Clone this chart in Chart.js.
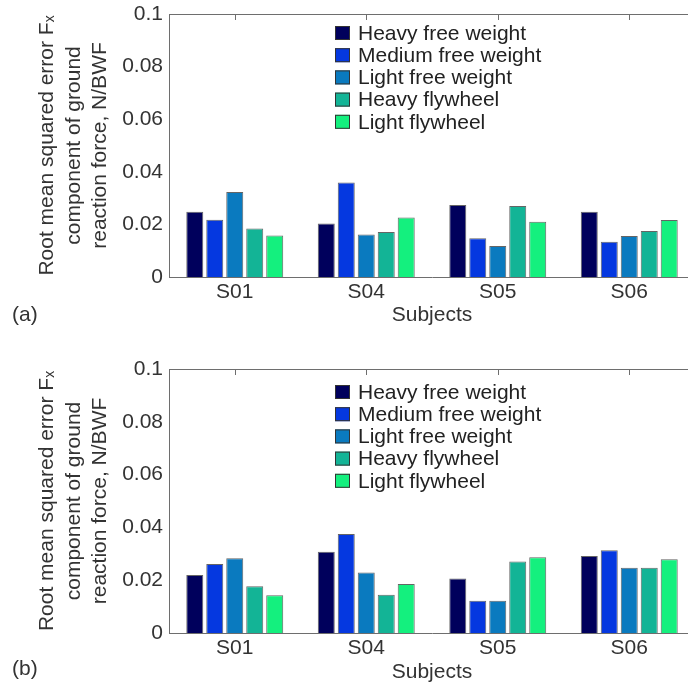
<!DOCTYPE html>
<html lang="en">
<head>
    <meta charset="UTF-8">
    <title>RMSE Fx per subject</title>
    <script src="https://cdn.jsdelivr.net/npm/chart.js"></script>
    <style>
        body {
            margin: 0;
            background: #fff;
            overflow: hidden;
            font-family: "Liberation Sans", Arial, sans-serif;
        }
        .panel {
            position: absolute;
            left: 0;
        }
        .tag {
            position: absolute;
            left: 12px;
            font-size: 21px;
            color: #333;
        }
    </style>
</head>
<body>
    <div class="panel" style="top:0px"><canvas id="chartA" width="700" height="340"></canvas></div>
    <div class="panel" style="top:340px"><canvas id="chartB" width="700" height="345"></canvas></div>
    <div class="tag" style="top:302px">(a)</div>
    <div class="tag" style="top:656px">(b)</div>

    <script>
        const subjects = ['S01', 'S04', 'S05', 'S06'];
        const seriesNames = ['Heavy free weight', 'Medium free weight', 'Light free weight', 'Heavy flywheel', 'Light flywheel'];
        const seriesColors = ['#00005c', '#0538e0', '#0a7abf', '#13b496', '#14f07e'];
        const yTicks = [0, 0.02, 0.04, 0.06, 0.08, 0.1];

        // panel (a)
        const aHeavyFree  = [0.0248, 0.0203, 0.0274, 0.0248];
        const aMediumFree = [0.0218, 0.0359, 0.0147, 0.0134];
        const aLightFree  = [0.0323, 0.0162, 0.0118, 0.0156];
        const aHeavyFly   = [0.0184, 0.0171, 0.0270, 0.0175];
        const aLightFly   = [0.0158, 0.0226, 0.0210, 0.0217];

        // panel (b)
        const bHeavyFree  = [0.0220, 0.0308, 0.0206, 0.0292];
        const bMediumFree = [0.0261, 0.0375, 0.0122, 0.0313];
        const bLightFree  = [0.0283, 0.0229, 0.0122, 0.0247];
        const bHeavyFly   = [0.0177, 0.0145, 0.0271, 0.0247];
        const bLightFly   = [0.0143, 0.0186, 0.0287, 0.0279];

        Chart.defaults.font.family = '"Liberation Sans", Arial, sans-serif';
        Chart.defaults.font.size = 21;
        Chart.defaults.color = '#333';

        const axisGray = '#6e6e6e';

        // top border with inward ticks + legend inside the plot box
        const framePlugin = {
            id: 'frame',
            afterDraw(chart, args, opts) {
                const ctx = chart.ctx;
                const a = chart.chartArea;
                const xs = chart.scales.x;
                ctx.save();
                ctx.strokeStyle = axisGray;
                ctx.lineWidth = 1;
                ctx.beginPath();
                ctx.moveTo(a.left, a.top + 0.5);
                ctx.lineTo(a.right, a.top + 0.5);
                subjects.forEach((s, i) => {
                    const x = Math.round(xs.getPixelForValue(i)) + 0.5;
                    ctx.moveTo(x, a.top);
                    ctx.lineTo(x, a.top + 6);
                });
                ctx.stroke();

                // legend
                ctx.font = '21px "Liberation Sans", Arial, sans-serif';
                ctx.textBaseline = 'middle';
                ctx.textAlign = 'left';
                chart.data.datasets.forEach((ds, i) => {
                    const y = a.top + opts.legendTop + i * 22.2;
                    ctx.fillStyle = ds.backgroundColor;
                    ctx.fillRect(a.left + 166, y - 7, 15, 14);
                    ctx.strokeStyle = '#333';
                    ctx.strokeRect(a.left + 166.5, y - 6.5, 14, 13);
                    ctx.fillStyle = '#222';
                    ctx.fillText(ds.label, a.left + 189, y + 1);
                });
                ctx.restore();
            }
        };

        function makeChart(id, series, padTop, xHeight, titlePadBottom, legendTop) {
            return new Chart(document.getElementById(id), {
                type: 'bar',
                data: {
                    labels: subjects,
                    datasets: series.map((vals, i) => ({
                        label: seriesNames[i],
                        data: vals,
                        backgroundColor: seriesColors[i],
                        borderColor: 'rgba(50,50,50,0.75)',
                        borderWidth: 1,
                        categoryPercentage: 0.76,
                        barPercentage: 0.85
                    }))
                },
                options: {
                    responsive: false,
                    animation: false,
                    layout: { padding: { top: padTop, right: 5, left: 0, bottom: 0 } },
                    plugins: {
                        legend: { display: false },
                        tooltip: { enabled: false },
                        frame: { legendTop: legendTop }
                    },
                    scales: {
                        x: {
                            grid: { display: false, drawTicks: false },
                            border: { display: true, color: axisGray, width: 1 },
                            ticks: { padding: 3, color: '#333' },
                            title: {
                                display: true,
                                text: 'Subjects',
                                color: '#333',
                                padding: { top: 0, bottom: titlePadBottom }
                            },
                            afterFit: (scale) => { scale.height = xHeight; }
                        },
                        y: {
                            min: 0,
                            max: 0.1,
                            grid: { display: false, drawTicks: false },
                            border: { display: true, color: axisGray, width: 1 },
                            afterBuildTicks: (scale) => { scale.ticks = yTicks.map(v => ({ value: v })); },
                            ticks: {
                                padding: 6,
                                color: '#333',
                                callback: (v) => String(+v.toFixed(2))
                            },
                            title: {
                                display: true,
                                text: ['Root mean squared error F\u2093', 'component of ground', 'reaction force, N/BWF'],
                                color: '#333',
                                font: { size: 21, lineHeight: 1.27 },
                                padding: { top: 34, bottom: 0 }
                            },
                            afterFit: (scale) => {
                                scale.width = 169;
                                // let layout.padding alone decide the plot top
                                scale.paddingTop = 0;
                                scale.paddingBottom = 0;
                            }
                        }
                    }
                },
                plugins: [framePlugin]
            });
        }

        makeChart('chartA', [aHeavyFree, aMediumFree, aLightFree, aHeavyFly, aLightFly], 14, 63, 12, 19);
        makeChart('chartB', [bHeavyFree, bMediumFree, bLightFree, bHeavyFly, bLightFly], 29, 52, 0, 23);
    </script>
</body>
</html>
